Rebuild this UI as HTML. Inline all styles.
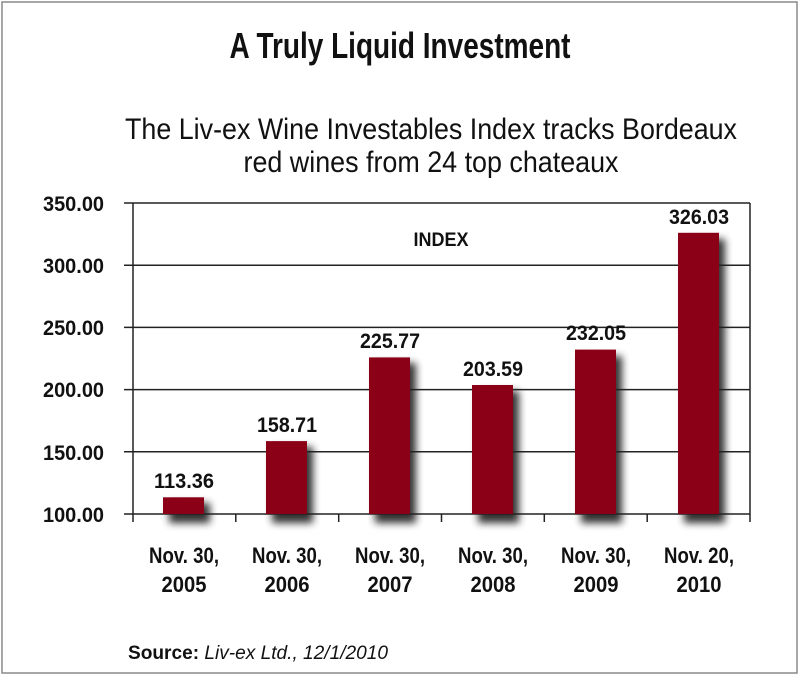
<!DOCTYPE html>
<html><head><meta charset="utf-8"><style>
html,body{margin:0;padding:0;background:#fff;}
svg{display:block;}
text{font-family:"Liberation Sans Narrow","Liberation Sans",sans-serif;fill:#111;}
</style></head><body>
<svg width="800" height="676" viewBox="0 0 800 676" xmlns="http://www.w3.org/2000/svg">
<defs>
<filter id="sh" x="-50%" y="-20%" width="200%" height="150%">
<feGaussianBlur stdDeviation="4"/>
</filter>
</defs>
<rect x="2" y="2" width="795" height="671" fill="#fff" stroke="#8a8a8a" stroke-width="1.5"/>
<text x="400" y="58" text-anchor="middle" font-size="36" font-weight="bold" textLength="341" lengthAdjust="spacingAndGlyphs">A Truly Liquid Investment</text>
<text x="431" y="139" text-anchor="middle" font-size="30" textLength="612" lengthAdjust="spacingAndGlyphs">The Liv-ex Wine Investables Index tracks Bordeaux</text>
<text x="431" y="172" text-anchor="middle" font-size="30" textLength="375" lengthAdjust="spacingAndGlyphs">red wines from 24 top chateaux</text>
<g fill="#000" opacity="0.8" filter="url(#sh)">
<rect x="169" y="503" width="41" height="20"/>
<rect x="272" y="447" width="41" height="76"/>
<rect x="375" y="363" width="41" height="160"/>
<rect x="478" y="391" width="41" height="132"/>
<rect x="581" y="356" width="41" height="167"/>
<rect x="684" y="239" width="41" height="284"/>
</g>
<g stroke="#222" stroke-width="1.5">
<line x1="124" y1="203" x2="750" y2="203"/>
<line x1="124" y1="265.2" x2="750" y2="265.2"/>
<line x1="124" y1="327.4" x2="750" y2="327.4"/>
<line x1="124" y1="389.6" x2="750" y2="389.6"/>
<line x1="124" y1="451.8" x2="750" y2="451.8"/>
<line x1="124" y1="514" x2="750" y2="514"/>
<line x1="133" y1="203" x2="133" y2="522"/>
<line x1="750" y1="203" x2="750" y2="522"/>
<line x1="235.8" y1="514" x2="235.8" y2="522"/>
<line x1="338.7" y1="514" x2="338.7" y2="522"/>
<line x1="441.5" y1="514" x2="441.5" y2="522"/>
<line x1="544.3" y1="514" x2="544.3" y2="522"/>
<line x1="647.2" y1="514" x2="647.2" y2="522"/>
</g>
<g fill="#8b0017">
<rect x="163" y="497.3" width="41" height="16.7"/>
<rect x="266" y="441.1" width="41" height="72.9"/>
<rect x="369" y="357.4" width="41" height="156.6"/>
<rect x="472" y="385.0" width="41" height="129"/>
<rect x="575" y="349.6" width="41" height="164.4"/>
<rect x="678" y="232.8" width="41" height="281.2"/>
</g>
<g font-size="21" font-weight="bold" text-anchor="end">
<text x="104" y="211" textLength="61" lengthAdjust="spacingAndGlyphs">350.00</text>
<text x="104" y="273" textLength="61" lengthAdjust="spacingAndGlyphs">300.00</text>
<text x="104" y="335" textLength="61" lengthAdjust="spacingAndGlyphs">250.00</text>
<text x="104" y="397" textLength="61" lengthAdjust="spacingAndGlyphs">200.00</text>
<text x="104" y="460" textLength="61" lengthAdjust="spacingAndGlyphs">150.00</text>
<text x="104" y="522" textLength="61" lengthAdjust="spacingAndGlyphs">100.00</text>
</g>
<text x="441" y="246" text-anchor="middle" font-size="19" font-weight="bold" textLength="55" lengthAdjust="spacingAndGlyphs">INDEX</text>
<g font-size="21" font-weight="bold" text-anchor="middle">
<text x="184" y="488" textLength="60" lengthAdjust="spacingAndGlyphs">113.36</text>
<text x="287" y="432" textLength="60" lengthAdjust="spacingAndGlyphs">158.71</text>
<text x="390" y="348" textLength="60" lengthAdjust="spacingAndGlyphs">225.77</text>
<text x="493" y="376" textLength="60" lengthAdjust="spacingAndGlyphs">203.59</text>
<text x="596" y="340" textLength="60" lengthAdjust="spacingAndGlyphs">232.05</text>
<text x="699" y="224" textLength="60" lengthAdjust="spacingAndGlyphs">326.03</text>
</g>
<g font-size="22" font-weight="bold" text-anchor="middle">
<text x="184" y="563" textLength="70" lengthAdjust="spacingAndGlyphs">Nov. 30,</text><text x="184" y="592" textLength="45" lengthAdjust="spacingAndGlyphs">2005</text>
<text x="287" y="563" textLength="70" lengthAdjust="spacingAndGlyphs">Nov. 30,</text><text x="287" y="592" textLength="45" lengthAdjust="spacingAndGlyphs">2006</text>
<text x="390" y="563" textLength="70" lengthAdjust="spacingAndGlyphs">Nov. 30,</text><text x="390" y="592" textLength="45" lengthAdjust="spacingAndGlyphs">2007</text>
<text x="493" y="563" textLength="70" lengthAdjust="spacingAndGlyphs">Nov. 30,</text><text x="493" y="592" textLength="45" lengthAdjust="spacingAndGlyphs">2008</text>
<text x="596" y="563" textLength="70" lengthAdjust="spacingAndGlyphs">Nov. 30,</text><text x="596" y="592" textLength="45" lengthAdjust="spacingAndGlyphs">2009</text>
<text x="699" y="563" textLength="70" lengthAdjust="spacingAndGlyphs">Nov. 20,</text><text x="699" y="592" textLength="45" lengthAdjust="spacingAndGlyphs">2010</text>
</g>
<text x="128" y="659" font-size="19" textLength="260" lengthAdjust="spacingAndGlyphs"><tspan font-weight="bold">Source:</tspan> <tspan font-style="italic">Liv-ex Ltd., 12/1/2010</tspan></text>
</svg>
</body></html>
